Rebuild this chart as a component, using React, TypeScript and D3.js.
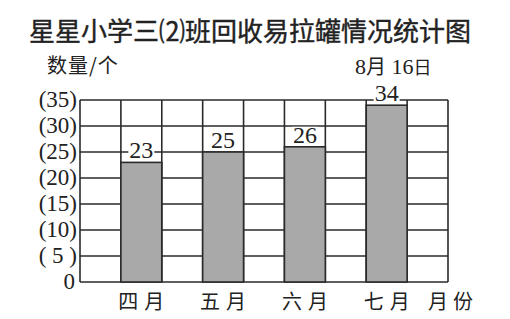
import React from "react";
import * as d3 from "d3";

const months = ["四月", "五月", "六月", "七月"];
const values = [23, 25, 26, 34];
const monthSlots = [1, 3, 5, 7];
const yTicks = [0, 5, 10, 15, 20, 25, 30, 35];
const yTickLabels = ["0", "( 5 )", "(10)", "(15)", "(20)", "(25)", "(30)", "(35)"];
const title = "星星小学三⑵班回收易拉罐情况统计图";
const yTitle = "数量/个";
const xTitle = "月份";

export default function App() {
  const W = 510, H = 319;
  const cols = 9;
  const x = d3.scaleLinear().domain([0, cols]).range([80, 448]);
  const y = d3.scaleLinear().domain([0, 35]).range([282, 100]);
  const colW = x(1) - x(0);
  const serif = "'Times New Roman', 'Liberation Serif', 'DejaVu Serif', serif";
  const cjk = "'Noto Sans CJK SC', sans-serif";
  const lineColor = "#2a2a2a";
  return (
    <svg width={W} height={H} style={{ position: "absolute", left: 0, top: 0, background: "#fff" }}>
      <rect x={0} y={0} width={W} height={H} fill="#fff" />
      <text x={250} y={41} textAnchor="middle" style={{ fontFamily: cjk, fontSize: 26, fontWeight: 400 }} fill="#222" stroke="#222" strokeWidth={0.4}>{title}</text>
      <text x={47} y={73} style={{ fontFamily: cjk, fontSize: 20 }} fill="#222" letterSpacing={1}>{yTitle}</text>
      <text x={355} y={74} style={{ fontFamily: serif, fontSize: 22 }} fill="#222">
        8<tspan style={{ fontFamily: cjk, fontSize: 20 }}>月</tspan> 16<tspan style={{ fontFamily: cjk, fontSize: 18 }}>日</tspan>
      </text>
      {yTicks.map((t) => (
        <line key={"h" + t} x1={x(0)} x2={x(cols)} y1={y(t)} y2={y(t)} stroke={lineColor} strokeWidth={1.6} />
      ))}
      {d3.range(cols + 1).map((i) => (
        <line key={"v" + i} x1={x(i)} x2={x(i)} y1={y(35)} y2={y(0)} stroke={lineColor} strokeWidth={1.6} />
      ))}
      {values.map((v, i) => (
        <rect key={"b" + i} x={x(monthSlots[i])} y={y(v)} width={colW} height={y(0) - y(v)}
          fill="#a9a9a9" stroke={lineColor} strokeWidth={1.6} />
      ))}
      {values.map((v, i) => {
        const cx = x(monthSlots[i]) + colW / 2;
        const by = y(v) - 4;
        return (
          <g key={"l" + i}>
            <rect x={cx - 13} y={by - 16} width={26} height={17} fill="#fff" />
            <text x={cx} y={by} textAnchor="middle" style={{ fontFamily: serif, fontSize: 24 }} fill="#222">{v}</text>
          </g>
        );
      })}
      {yTicks.map((t, i) => (
        <text key={"yt" + t} x={t === 0 ? 75 : 77} y={y(t) + 7} textAnchor="end" style={{ fontFamily: serif, fontSize: 23 }} fill="#222">
          {yTickLabels[i]}
        </text>
      ))}
      {months.map((m, i) => (
        <text key={"xm" + i} x={x(monthSlots[i]) + colW / 2 + 3} y={309} textAnchor="middle" style={{ fontFamily: cjk, fontSize: 20 }} fill="#222" letterSpacing={6}>
          {m}
        </text>
      ))}
      <text x={453} y={309} textAnchor="middle" style={{ fontFamily: cjk, fontSize: 20 }} fill="#222" letterSpacing={5}>{xTitle}</text>
    </svg>
  );
}
